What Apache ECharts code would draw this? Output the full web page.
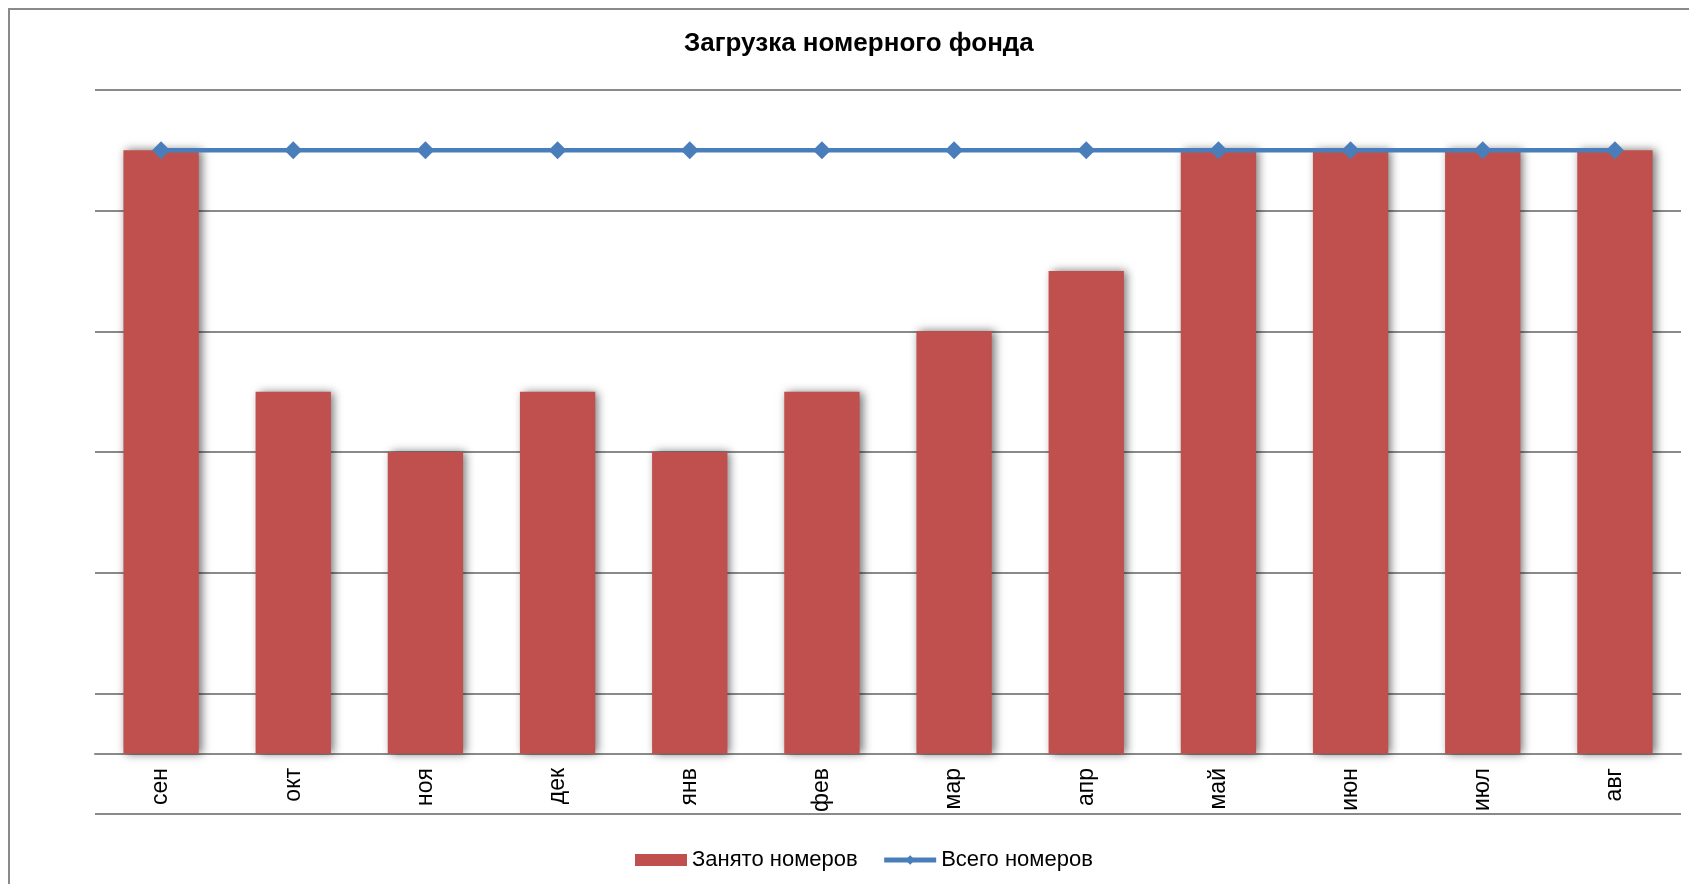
<!DOCTYPE html>
<html>
<head>
<meta charset="utf-8">
<script src="https://cdn.jsdelivr.net/npm/echarts@6/dist/echarts.min.js"></script>
<style>
    html, body { margin: 0; padding: 0; background: #fff; overflow: hidden; }
    #frame { position: absolute; left: 8px; top: 8px; width: 1800px; height: 1000px;
             border-left: 2px solid #8a8a8a; border-top: 2px solid #8a8a8a; }
    #chart { position: absolute; left: 0; top: 0; width: 1689px; height: 884px; }
</style>
</head>
<body>
<div id="frame"></div>
<div id="chart"></div>
<script>
var months = ['сен', 'окт', 'ноя', 'дек', 'янв', 'фев', 'мар', 'апр', 'май', 'июн', 'июл', 'авг'];
var occupied = [50, 30, 25, 30, 25, 30, 35, 40, 50, 50, 50, 50];
var total = [50, 50, 50, 50, 50, 50, 50, 50, 50, 50, 50, 50];

var chart = echarts.init(document.getElementById('chart'));
var font = 'Liberation Sans, Arial, sans-serif';

var option = {
    animation: false,
    title: {
        text: 'Загрузка номерного фонда',
        left: 679,
        top: 26,
        textStyle: { fontFamily: font, fontSize: 26, fontWeight: 'bold', color: '#000' }
    },
    legend: {
        bottom: 8,
        left: 630,
        itemWidth: 52,
        itemHeight: 12,
        itemGap: 24,
        textStyle: { fontFamily: font, fontSize: 22, color: '#000' },
        data: [
            { name: 'Занято номеров', icon: 'rect' },
            { name: 'Всего номеров', lineStyle: { width: 5 } }
        ]
    },
    grid: { left: 95, right: 8, top: 90, bottom: 70, containLabel: false },
    xAxis: {
        type: 'category',
        data: months,
        // the axis sits at 0, half a step above the grid bottom (-5)
        offset: -60,
        axisLine: { onZero: false, lineStyle: { color: '#8a8a8a', width: 2 } },
        axisTick: { show: false },
        axisLabel: { rotate: 90, margin: 14, fontFamily: font, fontSize: 23, color: '#000' }
    },
    yAxis: {
        type: 'value',
        min: -5,
        max: 55,
        interval: 10,
        axisLine: { show: false },
        axisTick: { show: false },
        axisLabel: { show: false },
        splitLine: { lineStyle: { color: '#8a8a8a', width: 2 } }
    },
    series: [
        {
            name: 'Занято номеров',
            type: 'bar',
            barWidth: '57%',
            data: occupied,
            itemStyle: {
                color: '#C0504D',
                shadowColor: 'rgba(0,0,0,0.55)',
                shadowBlur: 9,
                shadowOffsetX: 3,
                shadowOffsetY: 0
            }
        },
        {
            name: 'Всего номеров',
            type: 'line',
            data: total,
            symbol: 'diamond',
            symbolSize: 18,
            lineStyle: { color: '#4A7EBB', width: 4.5 },
            itemStyle: { color: '#4A7EBB' }
        }
    ]
};

chart.setOption(option);
</script>
</body>
</html>
